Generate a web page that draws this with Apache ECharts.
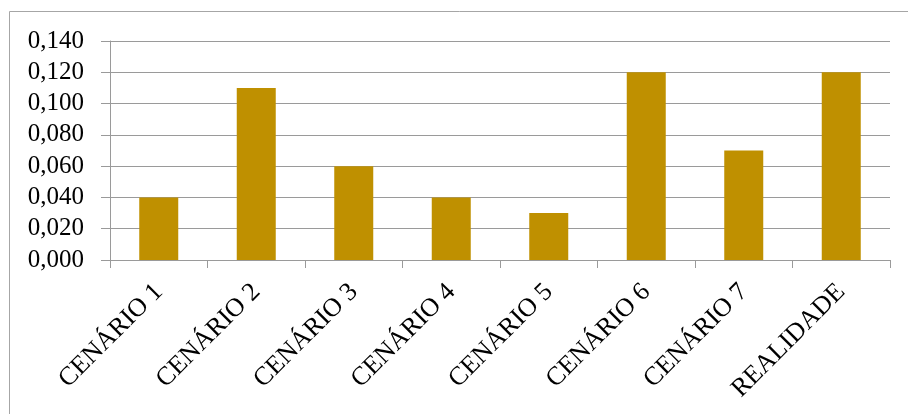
<!DOCTYPE html>
<html>
<head>
<meta charset="utf-8">
<script src="https://cdn.jsdelivr.net/npm/echarts@6/dist/echarts.min.js"></script>
<style>
  html, body { margin: 0; padding: 0; background: #fff; }
  #main { width: 908px; height: 414px; }
</style>
</head>
<body>
<div id="main"></div>
<script>
// dados do gráfico
const cenarios = ['CENÁRIO 1', 'CENÁRIO 2', 'CENÁRIO 3', 'CENÁRIO 4', 'CENÁRIO 5', 'CENÁRIO 6', 'CENÁRIO 7', 'REALIDADE'];
const valores = [0.04, 0.11, 0.06, 0.04, 0.03, 0.12, 0.07, 0.12];

let myChart = echarts.init(document.getElementById('main'));
let option = {
  animation: false,
  textStyle: { fontFamily: 'Liberation Serif' },
  graphic: [{
    type: 'rect',
    shape: { x: 9.5, y: 11.5, width: 920, height: 420 },
    style: { fill: null, stroke: '#a6a6a6', lineWidth: 1 },
    silent: true
  }],
  grid: { left: 110, right: 18, top: 41, bottom: 154 },
  xAxis: {
    type: 'category',
    data: cenarios,
    axisLine: { lineStyle: { color: '#9a9a9a' } },
    axisTick: { show: true, length: 8, lineStyle: { color: '#9a9a9a' } },
    axisLabel: { rotate: 45, color: '#000', fontSize: 26, margin: 28, interval: 0, fontFamily: 'Liberation Serif' }
  },
  yAxis: {
    type: 'value',
    min: 0,
    max: 0.14,
    interval: 0.02,
    axisLine: { show: true, lineStyle: { color: '#9a9a9a' } },
    axisTick: { show: true, length: 9, lineStyle: { color: '#9a9a9a' } },
    splitLine: { lineStyle: { color: '#9a9a9a' } },
    axisLabel: {
      color: '#000', fontSize: 25, margin: 26, fontFamily: 'Liberation Serif',
      formatter: v => v.toFixed(3).replace('.', ',')
    }
  },
  series: [{
    type: 'bar',
    data: valores,
    barWidth: '40%',
    itemStyle: { color: '#bf9000' }
  }]
};
myChart.setOption(option);
</script>
</body>
</html>
